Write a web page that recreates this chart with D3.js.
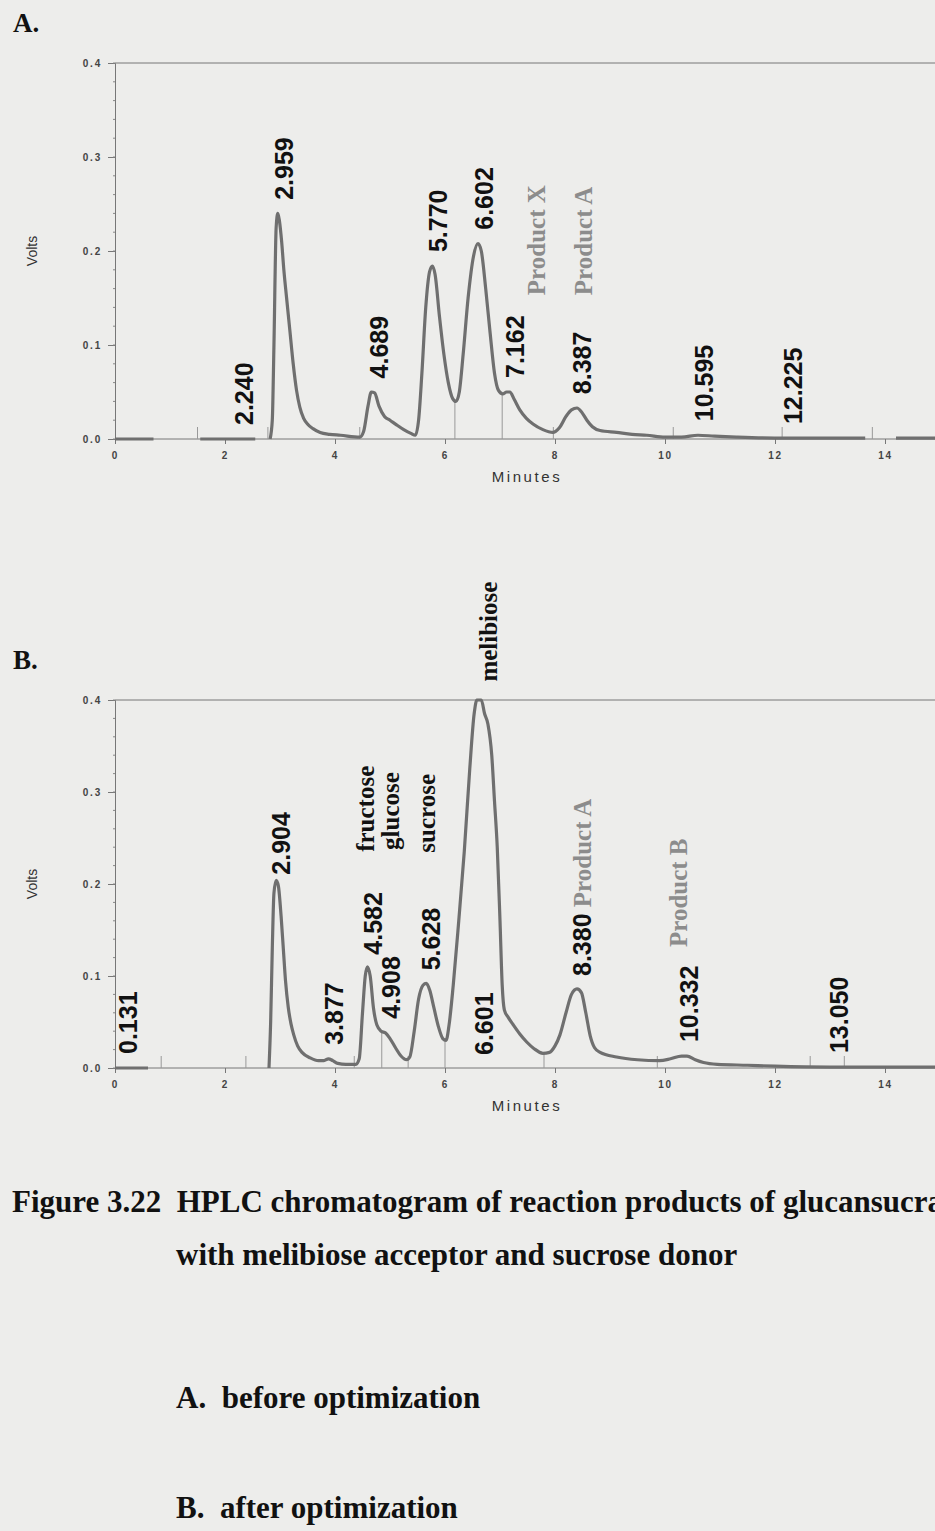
<!DOCTYPE html>
<html>
<head>
<meta charset="utf-8">
<script src="https://cdn.jsdelivr.net/npm/d3@7"></script>
<style>
  body { margin: 0; background: #ededeb; }
  svg { display: block; }
</style>
</head>
<body>
<svg id="chart" width="935" height="1531"></svg>
<script>
// trace points: [minutes, volts], null = break in the trace
const traceA = [
  [0, 0], [0.7, 0], null,
  [1.55, 0], [2.55, 0], null,
  [2.82, 0], [2.86, 0.02], [2.89, 0.1], [2.93, 0.225], [2.96, 0.24], [2.99, 0.232], [3.03, 0.21], [3.07, 0.18],
  [3.12, 0.15], [3.18, 0.115], [3.24, 0.08], [3.3, 0.052], [3.36, 0.034], [3.43, 0.022], [3.5, 0.016],
  [3.6, 0.011], [3.73, 0.007], [3.9, 0.005], [4.1, 0.004], [4.45, 0.002],
  [4.52, 0.008], [4.6, 0.035], [4.66, 0.05], [4.72, 0.049], [4.8, 0.035], [4.9, 0.024], [5.0, 0.02],
  [5.12, 0.015], [5.25, 0.01], [5.38, 0.006], [5.46, 0.004],
  [5.52, 0.02], [5.58, 0.07], [5.65, 0.14], [5.72, 0.178], [5.77, 0.184], [5.82, 0.175], [5.9, 0.13],
  [5.98, 0.09], [6.06, 0.06], [6.14, 0.043], [6.2, 0.04], [6.26, 0.05], [6.33, 0.09], [6.42, 0.15],
  [6.52, 0.195], [6.6, 0.208], [6.66, 0.2], [6.74, 0.16], [6.82, 0.113], [6.9, 0.07], [6.97, 0.052],
  [7.05, 0.048], [7.12, 0.05], [7.18, 0.05], [7.26, 0.042], [7.36, 0.031], [7.48, 0.022], [7.6, 0.016],
  [7.78, 0.01], [7.96, 0.007], [8.08, 0.012], [8.2, 0.024], [8.3, 0.031], [8.4, 0.033], [8.48, 0.029],
  [8.58, 0.02], [8.68, 0.013], [8.82, 0.009], [9.12, 0.007], [9.4, 0.005], [9.67, 0.004], [10.0, 0.002],
  [10.3, 0.002], [10.6, 0.004], [10.9, 0.003], [11.3, 0.002], [12.0, 0.001], [13.64, 0.001], null,
  [14.2, 0.001], [15.5, 0.001]
];

const traceB = [
  [0, 0], [0.6, 0], null,
  [2.8, 0], [2.83, 0.05], [2.86, 0.13], [2.89, 0.19], [2.93, 0.204], [2.97, 0.198], [3.02, 0.165],
  [3.06, 0.13], [3.1, 0.095], [3.15, 0.066], [3.2, 0.048], [3.25, 0.036], [3.32, 0.024], [3.4, 0.017],
  [3.55, 0.011], [3.7, 0.008], [3.8, 0.008], [3.88, 0.01], [3.96, 0.008], [4.05, 0.005], [4.2, 0.004],
  [4.38, 0.004], [4.44, 0.01], [4.5, 0.06], [4.55, 0.1], [4.59, 0.11], [4.64, 0.1], [4.7, 0.065],
  [4.76, 0.047], [4.84, 0.04], [4.92, 0.038], [5.0, 0.032], [5.1, 0.022], [5.2, 0.013], [5.3, 0.009],
  [5.36, 0.012], [5.44, 0.04], [5.52, 0.075], [5.6, 0.09], [5.66, 0.092], [5.72, 0.085], [5.8, 0.065],
  [5.88, 0.045], [5.96, 0.032], [6.02, 0.03], [6.07, 0.045], [6.15, 0.09], [6.25, 0.16], [6.35, 0.235],
  [6.45, 0.325], [6.53, 0.385], [6.58, 0.4], [6.66, 0.4], [6.72, 0.385], [6.78, 0.374], [6.85, 0.34],
  [6.9, 0.29], [6.95, 0.24], [7.0, 0.16], [7.04, 0.09], [7.08, 0.063], [7.15, 0.055], [7.24, 0.047],
  [7.36, 0.037], [7.49, 0.028], [7.62, 0.021], [7.78, 0.016], [7.9, 0.017], [8.0, 0.024], [8.09, 0.036],
  [8.2, 0.06], [8.3, 0.08], [8.4, 0.086], [8.48, 0.082], [8.56, 0.06], [8.64, 0.035], [8.72, 0.022],
  [8.82, 0.017], [9.12, 0.012], [9.5, 0.009], [9.9, 0.008], [10.1, 0.01], [10.3, 0.013], [10.4, 0.013],
  [10.55, 0.009], [10.7, 0.006], [10.95, 0.004], [11.5, 0.003], [12, 0.002], [13, 0.001], [15.5, 0.001]
];

// retention times printed over the peaks
const peaksA = [2.240, 2.959, 4.689, 5.770, 6.602, 7.162, 8.387, 10.595, 12.225];
const peaksB = [0.131, 2.904, 3.877, 4.582, 4.908, 5.628, 6.601, 8.380, 10.332, 13.050];
// integration marks drawn up from the baseline
const marksA = [1.5, 2.78, 4.45, 6.18, 7.04, 7.97, 10.15, 12.13, 13.77];
const marksB = [0.84, 2.38, 4.35, 4.85, 5.33, 6.0, 7.8, 9.86, 12.64, 13.26];

// compound names written beside the peaks (minutes, volts where the text starts)
const notesA = [
  { text: "Product X", t: 7.81, v: 0.153, product: true },
  { text: "Product A", t: 8.68, v: 0.153, product: true }
];
const notesB = [
  { text: "fructose", t: 4.70, v: 0.235 },
  { text: "glucose", t: 5.17, v: 0.237 },
  { text: "sucrose", t: 5.81, v: 0.234 },
  { text: "melibiose", t: 6.94, v: 0.42 },
  { text: "Product B", t: 10.40, v: 0.1315, product: true }
];
const suffixB = { "8.380": " Product A" };

const xTicks = [0, 2, 4, 6, 8, 10, 12, 14];
const yTicks = [0, 0.1, 0.2, 0.3, 0.4];

const captionLines = [
  "Figure 3.22  HPLC chromatogram of reaction products of glucansucrase",
  "with melibiose acceptor and sucrose donor",
  "A.  before optimization",
  "B.  after optimization"
];

const svg = d3.select("#chart");
svg.append("rect").attr("width", 935).attr("height", 1531).attr("fill", "#ededeb");

const sans = "'Liberation Sans', Arial, sans-serif";
const serif = "'Liberation Serif', 'Times New Roman', serif";
const traceColor = "#6f6f6f";
const productColor = "#8c8c8c";

const x = d3.scaleLinear().domain([0, 14]).range([115, 885]);

function traceAt(trace, t) {
  for (let i = 0; i < trace.length - 1; i++) {
    const a = trace[i], b = trace[i + 1];
    if (!a || !b) continue;
    if (t >= a[0] && t <= b[0]) return a[1] + (b[1] - a[1]) * (t - a[0]) / (b[0] - a[0]);
  }
  return 0;
}

function drawPanel(letter, top, bottom, trace, peaks, marks, notes, suffix) {
  const y = d3.scaleLinear().domain([0, 0.4]).range([bottom, top]);
  const g = svg.append("g");

  g.append("text")
    .attr("x", 13).attr("y", top - 31)
    .attr("font-family", serif).attr("font-weight", "bold").attr("font-size", 27)
    .attr("fill", "#111").text(letter);

  // y axis with small minor ticks
  const yAxis = g.append("g").attr("transform", "translate(115,0)")
    .call(d3.axisLeft(y).tickValues(yTicks).tickFormat(d3.format(".1f")).tickSize(7).tickPadding(6));
  yAxis.append("g").selectAll("line")
    .data(d3.range(0, 0.401, 0.02))
    .join("line")
    .attr("x1", -2).attr("x2", 0)
    .attr("y1", d => y(d)).attr("y2", d => y(d))
    .attr("stroke", "#888");

  const xAxis = g.append("g").attr("transform", `translate(0,${bottom})`)
    .call(d3.axisBottom(x).tickValues(xTicks).tickSize(5).tickPadding(8));

  [yAxis, xAxis].forEach(ax => {
    ax.select(".domain").attr("stroke", "#777");
    ax.selectAll(".tick line").attr("stroke", "#777");
    ax.selectAll(".tick text")
      .attr("font-family", sans).attr("font-weight", "bold").attr("font-size", 10)
      .attr("letter-spacing", 1.8).attr("fill", "#444");
  });
  xAxis.select(".domain").attr("d", `M115,0H935`);

  // top frame line at 0.4
  g.append("line")
    .attr("x1", 115).attr("x2", 935).attr("y1", y(0.4)).attr("y2", y(0.4))
    .attr("stroke", "#777");

  g.append("text")
    .attr("transform", `translate(37,${(top + bottom) / 2}) rotate(-90)`)
    .attr("text-anchor", "middle")
    .attr("font-family", sans).attr("font-size", 14).attr("fill", "#333")
    .text("Volts");

  g.append("text")
    .attr("x", 527).attr("y", bottom + 43)
    .attr("text-anchor", "middle")
    .attr("font-family", sans).attr("font-size", 15).attr("letter-spacing", 2.6).attr("fill", "#333")
    .text("Minutes");

  // integration marks
  g.append("g").selectAll("line")
    .data(marks)
    .join("line")
    .attr("x1", d => x(d)).attr("x2", d => x(d))
    .attr("y1", bottom)
    .attr("y2", d => Math.min(bottom - 12, y(traceAt(trace, d))))
    .attr("stroke", "#999").attr("stroke-width", 1);

  const line = d3.line()
    .defined(d => d !== null)
    .x(d => x(d[0]))
    .y(d => y(d[1]))
    .curve(d3.curveMonotoneX);

  g.append("path")
    .datum(trace)
    .attr("fill", "none")
    .attr("stroke", traceColor)
    .attr("stroke-width", 3.2)
    .attr("stroke-linejoin", "round")
    .attr("d", line);

  // retention time labels
  const labels = g.append("g").selectAll("text")
    .data(peaks)
    .join("text")
    .attr("transform", d => {
      const v = traceAt(trace, d);
      const base = v >= 0.4 ? bottom - 13 : y(v) - 14;
      return `translate(${x(d) + 15},${base}) rotate(-90)`;
    })
    .attr("font-family", sans).attr("font-weight", "bold").attr("font-size", 25)
    .attr("fill", "#111")
    .style("white-space", "pre");
  labels.append("tspan").text(d => d3.format(".3f")(d));
  labels.filter(d => suffix[d3.format(".3f")(d)])
    .append("tspan")
    .attr("font-family", serif).attr("fill", productColor)
    .text(d => suffix[d3.format(".3f")(d)]);

  g.append("g").selectAll("text")
    .data(notes)
    .join("text")
    .attr("transform", d => `translate(${x(d.t)},${y(d.v)}) rotate(-90)`)
    .attr("font-family", serif).attr("font-weight", "bold").attr("font-size", 25)
    .attr("fill", d => d.product ? productColor : "#111")
    .text(d => d.text);
}

drawPanel("A.", 63, 439, traceA, peaksA, marksA, notesA, {});
drawPanel("B.", 700, 1068, traceB, peaksB, marksB, notesB, suffixB);

// caption
const capX = [12, 176, 176, 176];
const capY = [1212, 1265, 1408, 1518];
svg.append("g").selectAll("text")
  .data(captionLines)
  .join("text")
  .attr("x", (d, i) => capX[i]).attr("y", (d, i) => capY[i])
  .attr("font-family", serif).attr("font-weight", "bold").attr("font-size", 31)
  .attr("fill", "#111")
  .style("white-space", "pre")
  .text(d => d);
</script>
</body>
</html>
